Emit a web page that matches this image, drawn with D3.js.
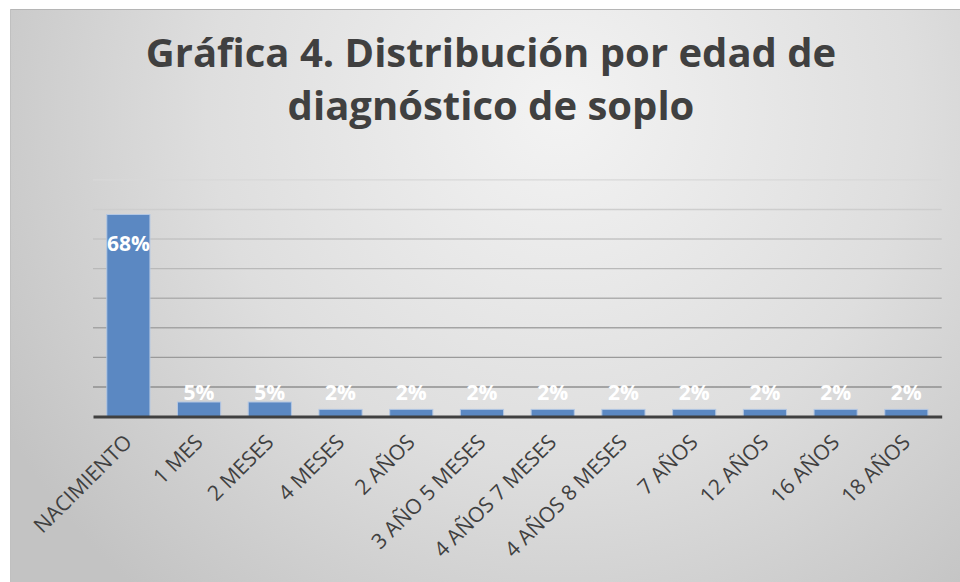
<!DOCTYPE html>
<html>
<head>
<meta charset="utf-8">
<script src="https://cdn.jsdelivr.net/npm/d3@7"></script>
<style>
  html, body { margin: 0; padding: 0; background: #ffffff; }
  svg { display: block; }
</style>
</head>
<body>
<svg id="chart" width="960" height="582"></svg>
<script>
// ---- data ----
const categories = ["NACIMIENTO", "1 MES", "2 MESES", "4 MESES", "2 AÑOS", "3 AÑO 5 MESES",
  "4 AÑOS 7 MESES", "4 AÑOS 8 MESES", "7 AÑOS", "12 AÑOS", "16 AÑOS", "18 AÑOS"];
const values = [0.683, 0.049, 0.049, 0.024, 0.024, 0.024, 0.024, 0.024, 0.024, 0.024, 0.024, 0.024];
const gridTicks = [0.1, 0.2, 0.3, 0.4, 0.5, 0.6, 0.7, 0.8];
const titleLines = ["Gráfica 4. Distribución por edad de", "diagnóstico de soplo"];

// ---- layout ----
const W = 960, H = 582;
const plot = { left: 93, right: 941.7, top: 179.9, bottom: 416.5 };
const svg = d3.select("#chart");
const defs = svg.append("defs");

const bg = defs.append("radialGradient").attr("id", "bg")
  .attr("gradientUnits", "userSpaceOnUse")
  .attr("cx", 560).attr("cy", 110).attr("r", 640);
bg.append("stop").attr("offset", "0").attr("stop-color", "#f3f3f3");
bg.append("stop").attr("offset", "0.55").attr("stop-color", "#dedede");
bg.append("stop").attr("offset", "1").attr("stop-color", "#c3c3c3");

const gridGrad = defs.append("linearGradient").attr("id", "gridGrad")
  .attr("gradientUnits", "userSpaceOnUse")
  .attr("x1", 0).attr("x2", 0).attr("y1", plot.top).attr("y2", plot.bottom);
gridGrad.append("stop").attr("offset", "0").attr("stop-color", "#d8d8d8");
gridGrad.append("stop").attr("offset", "1").attr("stop-color", "#858585");

svg.append("rect").attr("x", 10).attr("y", 9).attr("width", W - 10).attr("height", H - 9)
  .attr("fill", "url(#bg)");
svg.append("line").attr("x1", 10).attr("x2", W).attr("y1", 9.5).attr("y2", 9.5)
  .attr("stroke", "#b5b5b5").attr("stroke-width", 1);
svg.append("line").attr("x1", 10.5).attr("x2", 10.5).attr("y1", 9).attr("y2", H)
  .attr("stroke", "#c0c0c0").attr("stroke-width", 1);

// ---- scales ----
const x = d3.scaleBand().domain(categories).range([plot.left, plot.right])
  .paddingInner(0.39).paddingOuter(0.195);
const y = d3.scaleLinear().domain([0, 0.8]).range([plot.bottom, plot.top]);
const fmt = d3.format(".0%");

// ---- title ----
svg.append("text")
  .attr("x", 491).attr("y", 67)
  .attr("text-anchor", "middle")
  .style("font-family", "'Open Sans', sans-serif")
  .style("font-weight", "bold")
  .style("font-size", "40px")
  .attr("fill", "#404040")
  .selectAll("tspan").data(titleLines).join("tspan")
  .attr("x", 491).attr("dy", (d, i) => i === 0 ? 0 : 53)
  .text(d => d);

// ---- gridlines ----
svg.append("g").selectAll("line").data(gridTicks).join("line")
  .attr("x1", plot.left).attr("x2", plot.right)
  .attr("y1", d => y(d)).attr("y2", d => y(d))
  .attr("stroke", "url(#gridGrad)").attr("stroke-width", 1.4);

// ---- bars ----
svg.append("g").selectAll("rect").data(values).join("rect")
  .attr("x", (d, i) => x(categories[i]))
  .attr("y", d => y(d))
  .attr("width", x.bandwidth())
  .attr("height", d => y(0) - y(d))
  .attr("fill", "#5b88c2")
  .attr("stroke", "#b3c7e3").attr("stroke-width", 1);

// ---- x axis ----
const xAxis = svg.append("g")
  .attr("transform", `translate(0,${plot.bottom})`)
  .call(d3.axisBottom(x).tickSize(0).tickPadding(0));
xAxis.select(".domain").attr("stroke", "#404040").attr("stroke-width", 3.2);
xAxis.selectAll(".tick text")
  .attr("x", 0).attr("y", 0).attr("dy", 0)
  .attr("text-anchor", "end")
  .attr("transform", "translate(5,27) rotate(-45)")
  .style("font-family", "'Open Sans', sans-serif")
  .style("font-size", "21px")
  .attr("fill", "#404040");

// ---- data labels ----
svg.append("g").selectAll("text").data(values).join("text")
  .attr("x", (d, i) => x(categories[i]) + x.bandwidth() / 2)
  .attr("y", d => d > 0.3 ? y(d) + 36.4 : y(0) - 17)
  .attr("text-anchor", "middle")
  .style("font-family", "'Open Sans', sans-serif")
  .style("font-weight", "bold")
  .style("font-size", "21px")
  .attr("fill", "#ffffff")
  .text(d => fmt(d));
</script>
</body>
</html>
